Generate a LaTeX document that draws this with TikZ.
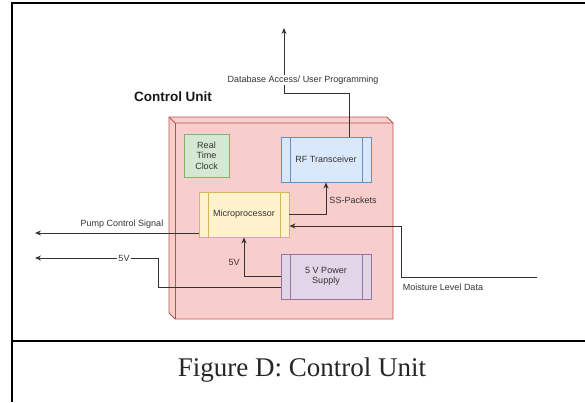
\documentclass[tikz,border=0pt]{standalone}
\usepackage{fontspec}
\setmainfont{Liberation Sans}
\newfontfamily\capfont{Liberation Serif}
\usetikzlibrary{arrows.meta,positioning,calc}
\definecolor{cubefill}{HTML}{F8CECC}
\definecolor{cubeline}{HTML}{B85450}
\definecolor{rffill}{HTML}{DAE8FC}
\definecolor{rfline}{HTML}{6C8EBF}
\definecolor{mcufill}{HTML}{FFF2CC}
\definecolor{mculine}{HTML}{D6B656}
\definecolor{psufill}{HTML}{E1D5E7}
\definecolor{psuline}{HTML}{9673A6}
\definecolor{rtcfill}{HTML}{D5E8D4}
\definecolor{rtcline}{HTML}{82B366}
\definecolor{wiregray}{HTML}{333333}
\definecolor{textgray}{HTML}{333333}
\tikzset{
    wire/.style={draw=wiregray, line width=0.9pt},
    flow/.style={wire, -{Stealth[length=6pt,width=5pt]}},
    lbl/.style={text=textgray, font=\fontsize{9}{10.5}\selectfont, inner sep=1pt},
    procbox/.style n args={2}{draw=#2, fill=#1, line width=0.9pt, minimum width=90pt, minimum height=45pt,
        text=textgray, font=\fontsize{9}{10.5}\selectfont, align=center,
        path picture={\draw[#2, line width=0.9pt]
            ([xshift=9pt]path picture bounding box.north west) -- ([xshift=9pt]path picture bounding box.south west)
            ([xshift=-9pt]path picture bounding box.north east) -- ([xshift=-9pt]path picture bounding box.south east);}}
}

\begin{document}
\begin{tikzpicture}[x=1pt, y=-1pt]
    \useasboundingbox (0,0) rectangle (585,402);
    \draw[line width=2pt] (11.5,402) -- (11.5,3) -- (590,3);
    \draw[line width=2pt] (11.5,341) -- (590,341);
    \node[font=\capfont\fontsize{27}{30}\selectfont, text=black!85] (caption) at (302,370) {Figure D: Control Unit};

    \filldraw[fill=cubefill, draw=cubeline, line width=0.9pt]
    (169,117) -- (387,117) -- (393,123) -- (393,319) -- (175,319) -- (169,313) -- cycle;
    \draw[cubeline, line width=0.9pt] (169,117) -- (175,123) -- (393,123);
    \draw[cubeline, line width=0.9pt] (175,123) -- (175,319);
    \node[font=\bfseries\fontsize{13.5}{16}\selectfont, text=black!90] (cutitle) at (173,97) {Control Unit};

    \node[draw=rtcline, fill=rtcfill, line width=0.9pt, minimum width=45pt, minimum height=43pt, align=center,
          text=textgray, font=\fontsize{9}{10.5}\selectfont] (rtc) at (206.5,155.5) {Real\\Time\\Clock};
    \node[procbox={rffill}{rfline}] (rf) at (326,159.5) {RF Transceiver};
    \node[procbox={mcufill}{mculine}] (mcu) at (244,214.5) {Microprocessor};
    \node[procbox={psufill}{psuline}] (psu) at (326,276.5) {5 V Power\\Supply};

    \coordinate (dbend) at (284,28);
    \coordinate (dbjog) at (284,93);
    \coordinate (pumpend) at (35,233);
    \coordinate (vout) at (35,258);
    \coordinate (vturn) at (158,258);
    \coordinate (moist) at (537,277);
    \coordinate (mturn) at (401,277);

    \draw[flow] ([xshift=23pt]rf.north) |- (dbjog) -- (dbend);
    \draw[flow] (mcu.east) -| (rf.south);
    \draw[flow] (moist) -- (mturn) |- ([yshift=-11.5pt]mcu.east);
    \draw[flow] (psu.west) -| (mcu.south);
    \draw[flow] ([yshift=-10.5pt]psu.west) -| (vturn) -- (vout);
    \draw[flow] ([yshift=-18.5pt]mcu.west) -- (pumpend);

    \node[lbl, fill=white] (dblbl) at (303,80) {Database Access/ User Programming};
    \node[lbl] (sslbl) at (353,200) {SS-Packets};
    \node[lbl] (pumplbl) at (122,224) {Pump Control Signal};
    \node[lbl, fill=white] (voutlbl) at (124,258) {5V};
    \node[lbl] (vinlbl) at (234,262) {5V};
    \node[lbl] (moistlbl) at (443,287) {Moisture Level Data};
\end{tikzpicture}
\end{document}
